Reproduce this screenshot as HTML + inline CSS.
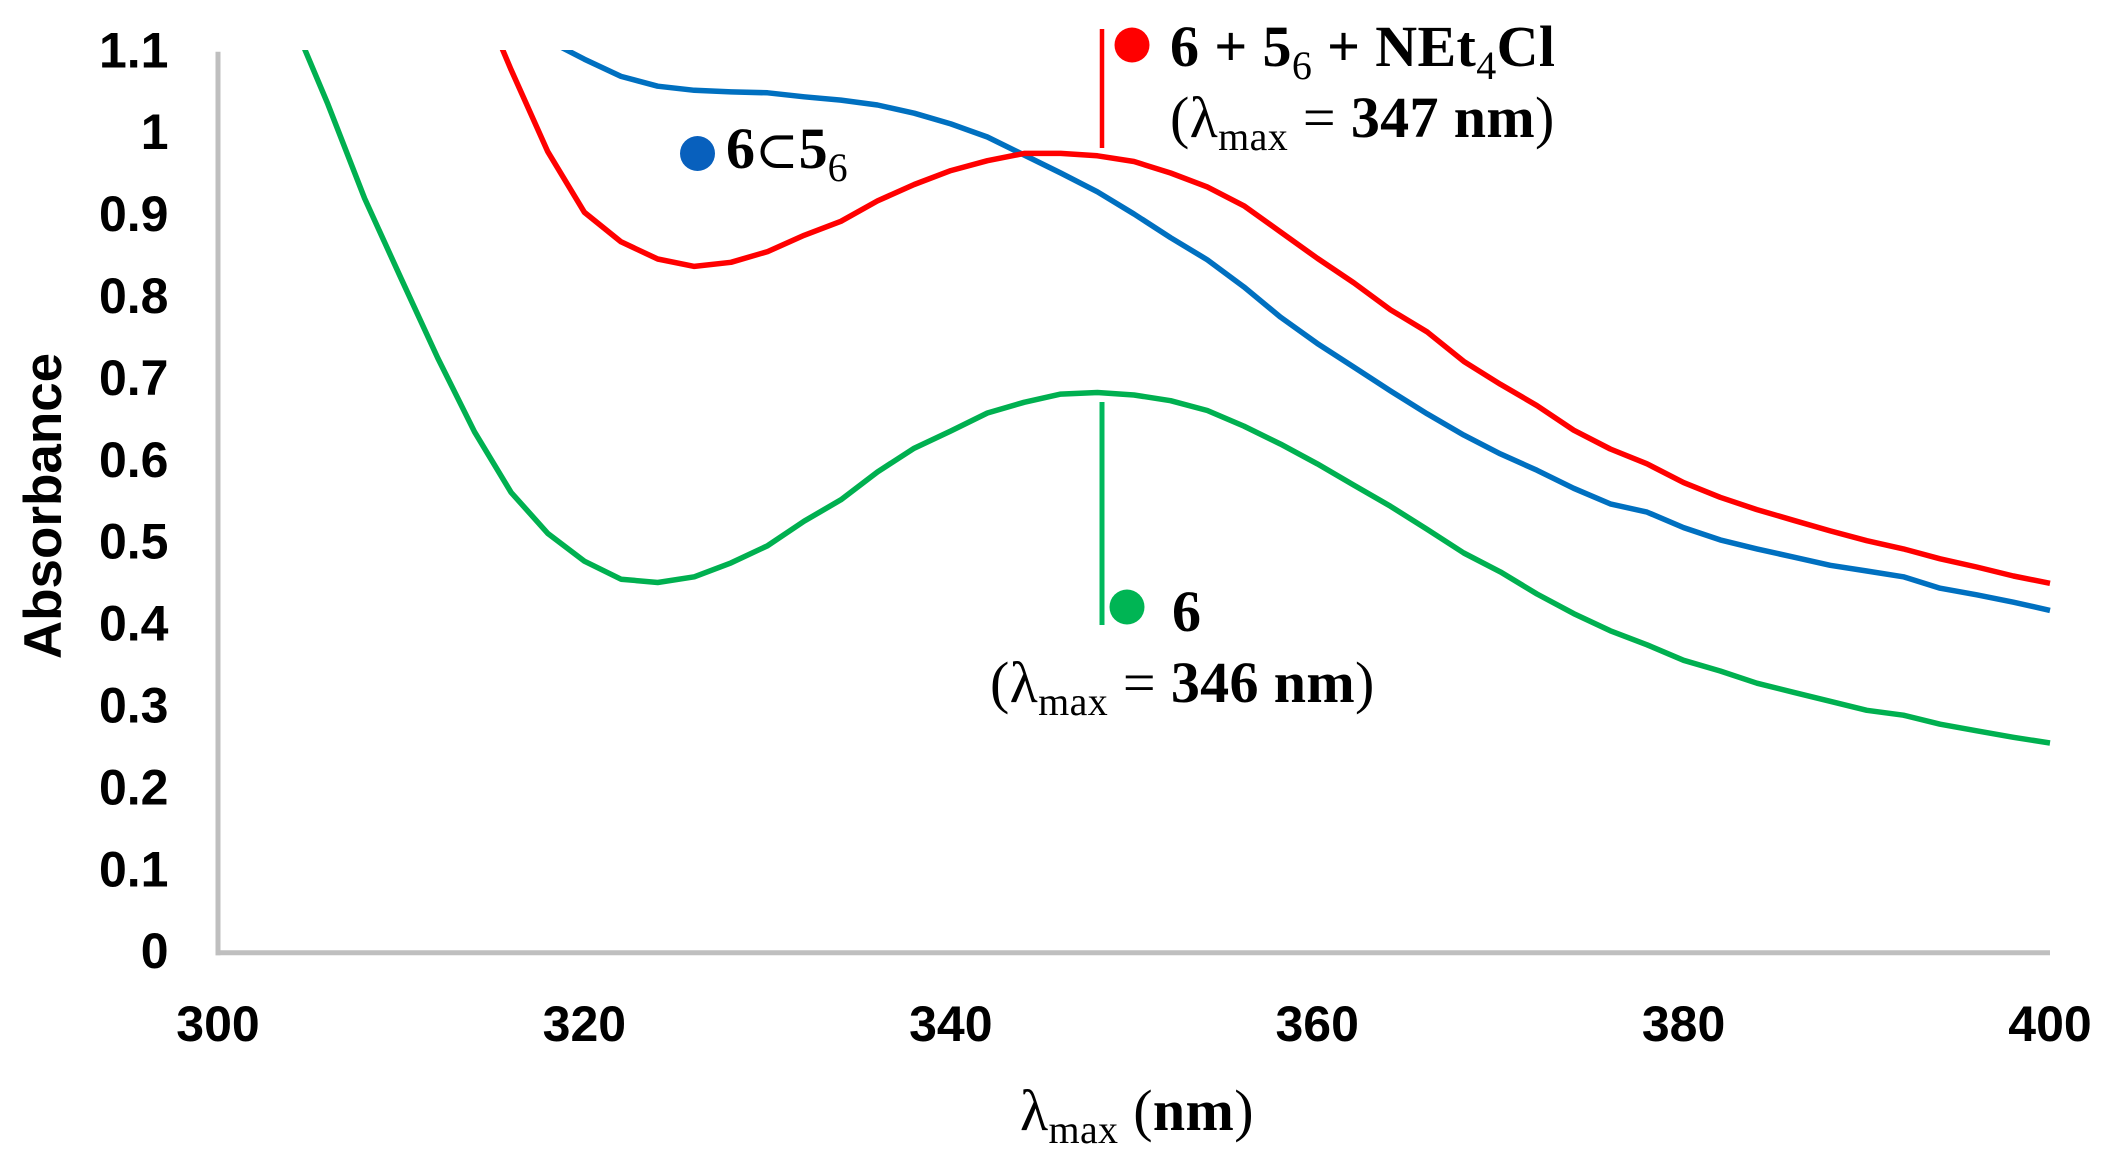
<!DOCTYPE html>
<html lang="en">
<head>
<meta charset="utf-8">
<title>Absorbance spectra</title>
<style>
  html, body { margin: 0; padding: 0; background: #fff; }
  svg { display: block; }
  .tick { font-family: "Liberation Sans", sans-serif; font-weight: 700; font-size: 50px; fill: #000; }
  .serif { font-family: "Liberation Serif", "DejaVu Serif", serif; font-size: 58px; fill: #000; letter-spacing: 0.35px; }
  .b { font-weight: 700; }
  .sub { font-size: 40px; font-weight: 400; }
</style>
</head>
<body>
<svg id="chart" xmlns="http://www.w3.org/2000/svg" width="2104" height="1161" viewBox="0 0 2104 1161">
  <rect x="0" y="0" width="2104" height="1161" fill="#ffffff"/>
  <defs>
    <clipPath id="plot-clip"><rect x="218" y="50" width="1836" height="905"/></clipPath>
  </defs>

  <g id="axes"></g>
  <g id="x-ticks"></g>
  <g id="y-ticks"></g>
  <g id="series" clip-path="url(#plot-clip)"></g>

  <text transform="translate(61 506) rotate(-90)" text-anchor="middle" font-family="'Liberation Sans', sans-serif" font-weight="700" font-size="53">Absorbance</text>

  <text class="serif" x="1020" y="1130">λ<tspan class="sub" dy="13">max</tspan><tspan dy="-13"> (</tspan><tspan class="b">nm</tspan>)</text>

  <line x1="1102" y1="29" x2="1102" y2="148" stroke="#ff0000" stroke-width="4.5"/>
  <circle cx="1132" cy="45" r="17.5" fill="#ff0000"/>
  <text class="serif b" x="1170" y="66">6 + 5<tspan class="sub" dy="13">6</tspan><tspan dy="-13"> + NEt</tspan><tspan class="sub" dy="13">4</tspan><tspan dy="-13">Cl</tspan></text>
  <text class="serif" x="1170" y="137">(λ<tspan class="sub" dy="13">max</tspan><tspan dy="-13"> = </tspan><tspan class="b">347 nm</tspan>)</text>

  <circle cx="697.5" cy="153.5" r="17.5" fill="#0860bd"/>
  <text class="serif" x="726" y="168" style="letter-spacing:0"><tspan class="b">6</tspan><tspan font-size="52">⊂</tspan><tspan class="b">5</tspan><tspan class="sub" dy="13">6</tspan></text>

  <line x1="1102" y1="402" x2="1102" y2="625" stroke="#00b85c" stroke-width="5"/>
  <circle cx="1127" cy="607" r="17.5" fill="#00b554"/>
  <text class="serif b" x="1172" y="631">6</text>
  <text class="serif" x="990" y="702">(λ<tspan class="sub" dy="13">max</tspan><tspan dy="-13"> = </tspan><tspan class="b">346 nm</tspan>)</text>
</svg>

<script>
const wavelengths = [304,306,308,310,312,314,316,318,320,322,324,326,328,330,332,334,336,338,340,342,344,346,348,350,352,354,356,358,360,362,364,366,368,370,372,374,376,378,380,382,384,386,388,390,392,394,396,398,400];
const greenValues = [1.142,1.036,0.921,0.823,0.726,0.636,0.562,0.512,0.478,0.456,0.452,0.459,0.476,0.497,0.527,0.553,0.587,0.616,0.637,0.659,0.672,0.682,0.684,0.681,0.674,0.662,0.643,0.621,0.597,0.571,0.545,0.517,0.488,0.465,0.438,0.414,0.393,0.376,0.357,0.344,0.329,0.318,0.307,0.296,0.290,0.279,0.271,0.263,0.256];
const redValues = [1.184,1.078,0.978,0.904,0.868,0.847,0.838,0.843,0.856,0.876,0.893,0.918,0.938,0.955,0.967,0.976,0.976,0.973,0.966,0.952,0.935,0.912,0.880,0.848,0.818,0.785,0.758,0.722,0.694,0.668,0.638,0.615,0.597,0.574,0.556,0.541,0.528,0.515,0.503,0.493,0.481,0.471,0.460,0.451];
const blueValues = [1.114,1.091,1.070,1.058,1.053,1.051,1.050,1.045,1.041,1.035,1.025,1.012,0.996,0.974,0.952,0.929,0.902,0.873,0.846,0.813,0.776,0.744,0.715,0.686,0.658,0.632,0.609,0.589,0.567,0.548,0.538,0.519,0.504,0.493,0.483,0.473,0.466,0.459,0.445,0.437,0.428,0.418];
const xTickValues = [300,320,340,360,380,400];
const yTickValues = [0,0.1,0.2,0.3,0.4,0.5,0.6,0.7,0.8,0.9,1,1.1];

const NS = 'http://www.w3.org/2000/svg';
function xScale(nm) { return 218 + (nm - 300) * 18.32; }
function yScale(a) { return 952.7 - a * 819; }

const axes = document.getElementById('axes');
const yAxisLine = document.createElementNS(NS, 'line');


yAxisLine.setAttribute('x1', xScale(300));
yAxisLine.setAttribute('x2', xScale(300));
yAxisLine.setAttribute('y1', yScale(1.1));
yAxisLine.setAttribute('y2', yScale(0) + 2.5);
yAxisLine.setAttribute('stroke', '#bfbfbf');
yAxisLine.setAttribute('stroke-width', '5');
axes.appendChild(yAxisLine);

const xAxisLine = document.createElementNS(NS, 'line');


xAxisLine.setAttribute('x1', xScale(300) - 2.5);
xAxisLine.setAttribute('x2', xScale(400));
xAxisLine.setAttribute('y1', yScale(0));
xAxisLine.setAttribute('y2', yScale(0));
xAxisLine.setAttribute('stroke', '#bfbfbf');
xAxisLine.setAttribute('stroke-width', '5');
axes.appendChild(xAxisLine);

const xTicks = document.getElementById('x-ticks');
xTickValues.forEach(function (v) {
  const t = document.createElementNS(NS, 'text');
  
  
  t.setAttribute('class', 'tick');
  t.setAttribute('x', xScale(v));
  t.setAttribute('y', 1041);
  t.setAttribute('text-anchor', 'middle');
  t.textContent = String(v);
  xTicks.appendChild(t);
});

const yTicks = document.getElementById('y-ticks');
yTickValues.forEach(function (v) {
  const t = document.createElementNS(NS, 'text');
  
  
  t.setAttribute('class', 'tick');
  t.setAttribute('x', 168.5);
  t.setAttribute('y', yScale(v) + 15.5);
  t.setAttribute('text-anchor', 'end');
  t.textContent = String(v);
  yTicks.appendChild(t);
});

function drawSeries(values, color) {
  const xs = wavelengths.slice(-values.length);
  const pts = values.map(function (a, i) { return xScale(xs[i]).toFixed(1) + ',' + yScale(a).toFixed(1); });
  const line = document.createElementNS(NS, 'polyline');
  line.setAttribute('points', pts.join(' '));
  line.setAttribute('fill', 'none');
  line.setAttribute('stroke', color);
  line.setAttribute('stroke-width', '5.5');
  line.setAttribute('stroke-linejoin', 'round');
  document.getElementById('series').appendChild(line);
  return line;
}

const greenLine = drawSeries(greenValues, '#00b050');


const blueLine = drawSeries(blueValues, '#0070c0');


const redLine = drawSeries(redValues, '#ff0000');


</script>
</body>
</html>
